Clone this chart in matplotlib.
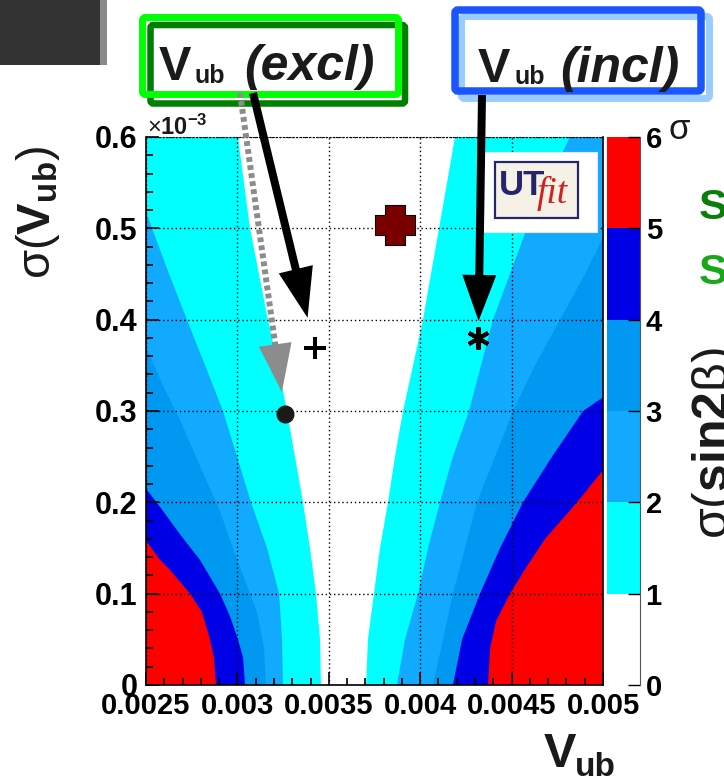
import numpy as np
import matplotlib
matplotlib.use('Agg')
import matplotlib.pyplot as plt
from matplotlib.patches import Rectangle, FancyBboxPatch, Polygon
from matplotlib.path import Path
from matplotlib.ticker import MultipleLocator, FormatStrFormatter

plt.rcParams['font.family'] = ['Liberation Sans', 'DejaVu Sans']
plt.rcParams['mathtext.fontset'] = 'custom'
plt.rcParams['mathtext.rm'] = 'Liberation Sans'
plt.rcParams['mathtext.bf'] = 'Liberation Sans:bold'
plt.rcParams['mathtext.it'] = 'Liberation Sans:italic'

# n-sigma contour lines of sigma(sin2beta); Vub and sigma(Vub) in units of 1e-3.
# Left branches close on the left frame, right branches on the right frame.
left_1s_vub = [3.457, 3.452, 3.430, 3.397, 3.359, 3.315, 3.271, 3.222, 3.167, 3.118, 3.069, 3.036, 3.003]
left_1s_sig = [0, 0.05, 0.1, 0.15, 0.2, 0.25, 0.3, 0.35, 0.4, 0.45, 0.5, 0.55, 0.6]
left_2s_vub = [3.249, 3.244, 3.228, 3.162, 3.074, 2.998, 2.921, 2.823, 2.724, 2.626, 2.533, 2.5]
left_2s_sig = [0, 0.05, 0.1, 0.15, 0.2, 0.25, 0.3, 0.35, 0.4, 0.45, 0.5, 0.518]
left_3s_vub = [3.156, 3.146, 3.107, 3.069, 2.998, 2.905, 2.795, 2.686, 2.588, 2.5]
left_3s_sig = [0, 0.04, 0.08, 0.1, 0.137, 0.19, 0.24, 0.29, 0.33, 0.37]
left_4s_vub = [3.042, 3.031, 3.003, 2.960, 2.905, 2.795, 2.686, 2.577, 2.5]
left_4s_sig = [0, 0.03, 0.05, 0.075, 0.1, 0.137, 0.165, 0.195, 0.215]
left_5s_vub = [2.883, 2.872, 2.850, 2.806, 2.741, 2.631, 2.577, 2.5]
left_5s_sig = [0, 0.03, 0.05, 0.08, 0.1, 0.126, 0.137, 0.158]

right_1s_vub = [3.704, 3.714, 3.747, 3.780, 3.824, 3.862, 3.906, 3.961, 4.015, 4.059, 4.103, 4.147, 4.190]
right_1s_sig = [0, 0.05, 0.1, 0.15, 0.2, 0.25, 0.3, 0.35, 0.4, 0.45, 0.5, 0.55, 0.6]
right_2s_vub = [3.873, 3.917, 3.988, 4.043, 4.108, 4.179, 4.267, 4.333, 4.398, 4.491, 4.584, 4.699, 4.819]
right_2s_sig = [0, 0.05, 0.1, 0.15, 0.2, 0.25, 0.3, 0.35, 0.4, 0.45, 0.5, 0.55, 0.6]
right_3s_vub = [4.070, 4.125, 4.179, 4.245, 4.311, 4.409, 4.508, 4.628, 4.765, 4.902, 5.0]
right_3s_sig = [0, 0.05, 0.1, 0.15, 0.2, 0.25, 0.3, 0.35, 0.4, 0.45, 0.49]
right_4s_vub = [4.179, 4.229, 4.327, 4.437, 4.562, 4.721, 4.891, 5.0]
right_4s_sig = [0, 0.05, 0.1, 0.15, 0.2, 0.25, 0.3, 0.315]
right_5s_vub = [4.371, 4.382, 4.415, 4.491, 4.584, 4.683, 4.858, 5.0]
right_5s_sig = [0, 0.04, 0.07, 0.1, 0.13, 0.16, 0.2, 0.235]

# markers (Vub, sigma(Vub)), units of 1e-3
dot_vub, dot_sig = [3.26], [0.297]
plus_vub, plus_sig = [3.424], [0.369]
star_vub, star_sig = [4.318], [0.380]
cross_vub, cross_sig = [3.862], [0.504]

x_ticks = [0.0025, 0.003, 0.0035, 0.004, 0.0045, 0.005]
y_ticks = [0, 0.1, 0.2, 0.3, 0.4, 0.5, 0.6]
levels = [0, 1, 2, 3, 4, 5, 6]
# bands 1-2, 2-3, 3-4, 4-5, 5-6 sigma
band_colors = ['#00ffff', '#12aaff', '#0098f0', '#0000e6', '#ff0000']

W, H = 724, 778
fig = plt.figure(figsize=(W / 100, H / 100), dpi=100)


def fig_box(left, top, right, bottom):
    return [left / W, 1 - bottom / H, (right - left) / W, (bottom - top) / H]


ax = fig.add_axes(fig_box(146, 137, 603, 685))
cax = fig.add_axes(fig_box(607, 137, 640, 685))

left_lines = [(left_1s_vub, left_1s_sig), (left_2s_vub, left_2s_sig), (left_3s_vub, left_3s_sig),
              (left_4s_vub, left_4s_sig), (left_5s_vub, left_5s_sig)]
right_lines = [(right_1s_vub, right_1s_sig), (right_2s_vub, right_2s_sig), (right_3s_vub, right_3s_sig),
               (right_4s_vub, right_4s_sig), (right_5s_vub, right_5s_sig)]

# paint the region outside each n-sigma line, lowest level first
for color, (lx, ly), (rx, ry) in zip(band_colors, left_lines, right_lines):
    xs = np.r_[np.array(lx) * 1e-3, 2.5e-3, 2.5e-3]
    ys = np.r_[ly, ly[-1], 0]
    ax.fill(xs, ys, color=color, lw=0, zorder=1)
    xs = np.r_[np.array(rx) * 1e-3, 5.0e-3, 5.0e-3]
    ys = np.r_[ry, ry[-1], 0]
    ax.fill(xs, ys, color=color, lw=0, zorder=1)

ax.set_xlim(0.0025, 0.005)
ax.set_ylim(0, 0.6)
ax.set_xticks(x_ticks)
ax.set_yticks(y_ticks)
ax.xaxis.set_major_formatter(FormatStrFormatter('%g'))
ax.yaxis.set_major_formatter(FormatStrFormatter('%g'))
ax.xaxis.set_minor_locator(MultipleLocator(0.0001))
ax.yaxis.set_minor_locator(MultipleLocator(0.02))
ax.tick_params(which='both', direction='in', top=False, right=False, width=1.2, color='black')
ax.tick_params(which='major', length=9.5)
ax.tick_params(which='minor', length=5)
ax.tick_params(axis='x', labelsize=21, pad=5)
ax.tick_params(axis='y', labelsize=22, pad=6)
for lab in ax.get_xticklabels() + ax.get_yticklabels():
    lab.set_fontweight('bold')
ax.set_axisbelow(False)
ax.grid(True, which='major', color='black', lw=1, linestyle=(0, (1, 2)))
for side in ['left', 'bottom', 'right']:
    ax.spines[side].set_linewidth(1.2)
ax.spines['top'].set_linestyle((0, (1, 2)))

# markers
ax.plot(np.array(dot_vub) * 1e-3, dot_sig, 'o', color='#1a1a1a', ms=12, zorder=5)
ax.plot(np.array(plus_vub) * 1e-3, plus_sig, '+', color='black', ms=16.5, mew=2.9, zorder=5)
ax.plot(np.array(star_vub) * 1e-3, star_sig, marker=(6, 2, 0), color='black', ms=16, mew=2.9,
        linestyle='none', zorder=5)
a = 0.5
fat_plus = Path([(-a, -1), (a, -1), (a, -a), (1, -a), (1, a), (a, a), (a, 1), (-a, 1),
                 (-a, a), (-1, a), (-1, -a), (-a, -a), (-a, -1)], closed=True)
ax.plot(np.array(cross_vub) * 1e-3, cross_sig, marker=fat_plus, color='#7a0000', mec='black',
        mew=0.8, ms=29, linestyle='none', zorder=5)

# colour scale
for lo, c in zip(levels[:-1], ['white'] + band_colors):
    cax.bar(0.5, 1, width=1, bottom=lo, color=c, lw=0)
cax.set_xlim(0, 1)
cax.set_ylim(0, 6)
cax.set_xticks([])
cax.set_yticks(levels)
cax.yaxis.tick_right()
cax.tick_params(axis='y', direction='in', length=9, width=1, labelsize=21, pad=4)
for lab in cax.get_yticklabels():
    lab.set_fontweight('bold')
for side in ['left', 'top', 'bottom']:
    cax.spines[side].set_visible(False)
cax.spines['right'].set_color('#555555')

# overlay in figure pixels (origin top-left) for labels, boxes and arrows
deco = fig.add_axes([0, 0, 1, 1], zorder=10)
deco.set_xlim(0, W)
deco.set_ylim(H, 0)
deco.axis('off')
deco.patch.set_alpha(0)


def arrow(vub, sig, start, color, lw_px, head_len, head_w, gap, dashes=None):
    # arrow from a point under a label box towards a marker, stopping `gap` px short
    tx, ty = ax.transData.transform((vub[0] * 1e-3, sig[0]))
    ty = H - ty
    sx, sy = start
    d = np.hypot(tx - sx, ty - sy)
    ux, uy = (tx - sx) / d, (ty - sy) / d
    tip = np.array([tx - gap * ux, ty - gap * uy])
    base = tip - head_len * np.array([ux, uy])
    kw = dict(color=color, lw=lw_px * 0.72, solid_capstyle='butt', dash_capstyle='butt')
    if dashes:
        kw['dashes'] = dashes
    deco.plot([sx, base[0] + 3 * ux], [sy, base[1] + 3 * uy], **kw)
    n = np.array([-uy, ux]) * head_w / 2
    deco.add_patch(Polygon([tip, base + n, base - n], closed=True, fc=color, lw=0))


arrow(dot_vub, dot_sig, (240, 93), '#8c8c8c', 6, 48, 33, 22, dashes=(0.8, 0.55))
arrow(plus_vub, plus_sig, (253, 93), 'black', 8, 50, 35, 31)
arrow(star_vub, star_sig, (482, 95), 'black', 8, 46, 34, 17)

deco.add_patch(Rectangle((0, 0), 100, 65, fc='#333333', lw=0))
deco.add_patch(Rectangle((100, 0), 7, 65, fc='#8a8a8a', lw=0))

deco.add_patch(FancyBboxPatch((150.5, 25), 254.5, 78.5, boxstyle='round,pad=0,rounding_size=3',
                              fc='none', ec='#008000', lw=4.7))
deco.add_patch(FancyBboxPatch((142.5, 17.5), 256, 77, boxstyle='round,pad=0,rounding_size=3',
                              fc='none', ec='#00ff00', lw=5))
deco.add_patch(FancyBboxPatch((461.5, 16.5), 248, 82, boxstyle='round,pad=0,rounding_size=3',
                              fc='none', ec='#99ccff', lw=5))
deco.add_patch(FancyBboxPatch((455, 10), 246, 81, boxstyle='round,pad=0,rounding_size=3',
                              fc='none', ec='#1a55ff', lw=5.4))

ink = '#1a1a1a'
deco.text(159, 80, 'V', size=35, weight='bold', color=ink, va='baseline')
deco.text(195, 83, 'ub', size=18, weight='bold', color=ink, va='baseline')
deco.text(244, 80, '(excl)', size=36, weight='bold', style='italic', color=ink, va='baseline')
deco.text(478, 82, 'V', size=35, weight='bold', color=ink, va='baseline')
deco.text(514, 84, 'ub', size=18, weight='bold', color=ink, va='baseline')
deco.text(560, 82, '(incl)', size=36, weight='bold', style='italic', color=ink, va='baseline')

# axis titles
deco.text(544, 767, 'V', size=35, weight='bold', color=ink, va='baseline')
deco.text(575, 776, 'ub', size=24, weight='bold', color=ink, va='baseline')
deco.text(38, 212, 'σ($\\mathbf{V_{ub}}$)', size=34, rotation=90, ha='center', va='center', color=ink)
deco.text(147, 135, '$\\times\\mathbf{10^{-3}}$', size=17, color=ink, va='baseline')
deco.text(669, 139, 'σ', size=25, color=ink, va='baseline')

# partly visible labels at the right border
deco.text(699, 219, 'S', size=31, weight='bold', color='#0b7d0b', va='baseline')
deco.text(699, 284, 'S', size=31, weight='bold', color='#1aa81a', va='baseline')
deco.text(690, 443, 'σ($\\mathbf{sin2}$β)', size=36, rotation=90, ha='left', va='center', color=ink)

# UTfit logo
deco.add_patch(Rectangle((482, 152), 115, 80, fc='white', ec='#e6e6e6', lw=0.8))
deco.add_patch(Rectangle((495, 162), 83, 56, fc='#f6f1e6', ec='#25256b', lw=1.6))
deco.text(499, 195, 'UT', size=25, weight='bold', color='#25256b', va='baseline')
deco.text(537, 203, 'fit', size=27, style='italic', family='Liberation Serif', color='#d02020',
          va='baseline')

fig.savefig('out.png', dpi=100, facecolor='white')
